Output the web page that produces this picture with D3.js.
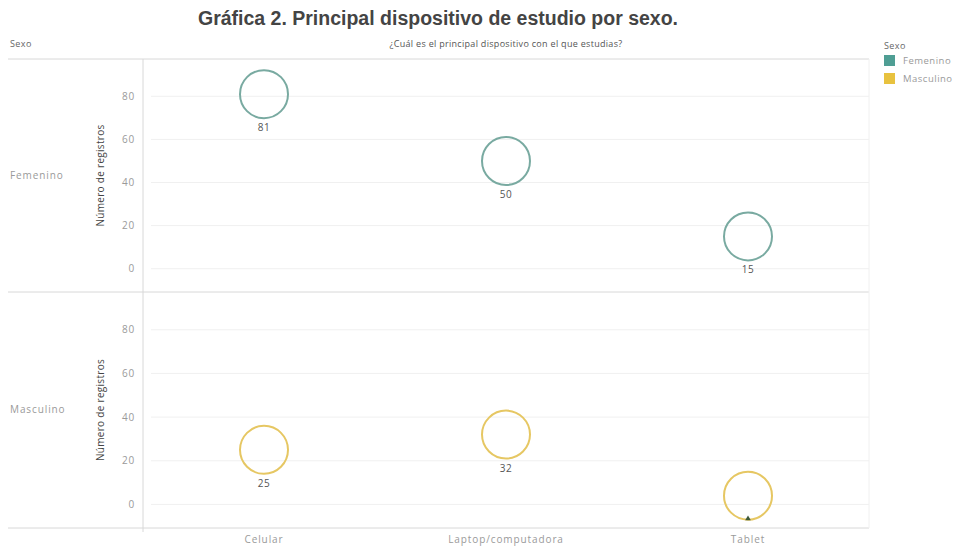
<!DOCTYPE html>
<html>
  <head>
    <title>Gráfica 2</title>
    <script src="https://cdn.jsdelivr.net/npm/d3@7"></script>
    <style>
      body {
        margin: 0;
        background: #fff;
      }
      svg text {
        font-family: "Open Sans", Lato, sans-serif;
      }
    </style>
  </head>
  <body>
    <script>
    // data
    var devices = ["Celular", "Laptop/computadora", "Tablet"];
    var sexes = ["Femenino", "Masculino"];
    var femenino = [81, 50, 15];
    var masculino = [25, 32, 4];
    var yTicks = [0, 20, 40, 60, 80];
    var colors = ["#4f9e94", "#e8c23f"];
    var strokes = ["#79aaa1", "#e6c763"];

    var values = [femenino, masculino];

    var W = 962, H = 546;
    var plotLeft = 143, plotRight = 869, plotTop = 59;
    var panelH = [233, 236];

    var svg = d3.select("body").append("svg")
      .attr("width", W)
      .attr("height", H);

    svg.append("text")
      .attr("x", 438).attr("y", 25)
      .attr("text-anchor", "middle")
      .style("font-family", "Liberation Sans, Arial, sans-serif")
      .style("font-weight", "bold")
      .style("font-size", "19.5px")
      .style("fill", "#444")
      .text("Gráfica 2. Principal dispositivo de estudio por sexo.");

    svg.append("text")
      .attr("x", 10).attr("y", 47)
      .style("font-size", "9px").style("fill", "#666")
      .style("letter-spacing", "0.4px")
      .text("Sexo");

    svg.append("text")
      .attr("x", (plotLeft + plotRight) / 2).attr("y", 47)
      .attr("text-anchor", "middle")
      .style("font-size", "9px").style("fill", "#555")
      .style("letter-spacing", "0.3px")
      .text("¿Cuál es el principal dispositivo con el que estudias?");

    var x = d3.scalePoint()
      .domain(devices)
      .range([plotLeft, plotRight])
      .padding(0.5);

    var y0 = plotTop;
    sexes.forEach(function (sex, i) {
      var h = panelH[i];
      var y = d3.scaleLinear()
        .domain([-10.8, 97.3])
        .range([y0 + h, y0]);

      var g = svg.append("g");

      // grid
      g.selectAll(".grid")
        .data(yTicks)
        .enter().append("line")
        .attr("x1", plotLeft + 8).attr("x2", plotRight)
        .attr("y1", function (d) { return y(d); })
        .attr("y2", function (d) { return y(d); })
        .style("stroke", "#f0f0f0")
        .style("stroke-width", 1);

      var axis = d3.axisLeft(y).tickValues(yTicks).tickSize(0).tickPadding(8);
      var ag = g.append("g")
        .attr("transform", "translate(" + plotLeft + ",0)")
        .call(axis);
      ag.select(".domain").remove();
      ag.selectAll("text")
        .style("font-size", "10px")
        .style("fill", "#9a9a9a")
        .style("letter-spacing", "0.8px")
        .style("font-family", "'Open Sans', sans-serif");

      g.append("text")
        .attr("transform", "translate(104," + (y0 + h / 2) + ") rotate(-90)")
        .attr("text-anchor", "middle")
        .style("font-size", "10px").style("fill", "#444")
        .style("letter-spacing", "0.3px")
        .text("Número de registros");

      g.append("text")
        .attr("x", 10).attr("y", y0 + h / 2 + 3)
        .style("font-size", "10px").style("fill", "#9a9a9a")
        .style("letter-spacing", "0.9px")
        .text(sex);

      var pts = devices.map(function (d, j) {
        return { dev: d, v: values[i][j] };
      });

      g.selectAll(".mark")
        .data(pts)
        .enter().append("circle")
        .attr("cx", function (d) { return x(d.dev); })
        .attr("cy", function (d) { return y(d.v); })
        .attr("r", 24)
        .style("fill", "none")
        .style("stroke", strokes[i])
        .style("stroke-width", 2);

      g.selectAll(".lbl")
        .data(pts.filter(function (d) { return d.v > 10; }))
        .enter().append("text")
        .attr("x", function (d) { return x(d.dev); })
        .attr("y", function (d) { return y(d.v) + 37; })
        .attr("text-anchor", "middle")
        .style("font-size", "10px").style("fill", "#555")
        .style("letter-spacing", "0.5px")
        .text(function (d) { return d.v; });

      // tiny mark under the small circle
      pts.filter(function (d) { return d.v <= 10; }).forEach(function (d) {
        g.append("path")
          .attr("d", d3.symbol().type(d3.symbolTriangle).size(14))
          .attr("transform", "translate(" + x(d.dev) + "," + (y(d.v) + 23) + ")")
          .style("fill", "#3d5a3a");
      });

      y0 += h;
    });

    // frame lines
    var lines = [
      [8, plotTop, plotRight, plotTop],
      [8, plotTop + panelH[0], plotRight, plotTop + panelH[0]],
      [8, plotTop + panelH[0] + panelH[1], plotRight, plotTop + panelH[0] + panelH[1]],
      [plotLeft, plotTop, plotLeft, plotTop + panelH[0] + panelH[1] + 4],
      [plotRight, plotTop, plotRight, plotTop + panelH[0] + panelH[1]]
    ];
    svg.selectAll(".frame")
      .data(lines)
      .enter().append("line")
      .attr("x1", function (d) { return d[0]; })
      .attr("y1", function (d) { return d[1]; })
      .attr("x2", function (d) { return d[2]; })
      .attr("y2", function (d) { return d[3]; })
      .style("stroke", function (d, i) { return i == 4 ? "#f0f0f0" : "#d8d8d8"; })
      .style("stroke-width", 1);

    // x labels
    svg.selectAll(".xl")
      .data(devices)
      .enter().append("text")
      .attr("x", function (d) { return x(d); })
      .attr("y", 543)
      .attr("text-anchor", "middle")
      .style("font-size", "10px").style("fill", "#9a9a9a")
      .style("letter-spacing", "0.9px")
      .text(function (d) { return d; });

    // legend
    svg.append("text")
      .attr("x", 884).attr("y", 49)
      .style("font-size", "9px").style("fill", "#666")
      .style("letter-spacing", "0.4px")
      .text("Sexo");
    var lg = svg.selectAll(".lg")
      .data(sexes)
      .enter().append("g")
      .attr("transform", function (d, i) { return "translate(884," + (55 + i * 18) + ")"; });
    lg.append("rect")
      .attr("width", 11).attr("height", 11)
      .style("fill", function (d, i) { return colors[i]; });
    lg.append("text")
      .attr("x", 19).attr("y", 9)
      .style("font-size", "9.5px").style("fill", "#9a9a9a")
      .style("letter-spacing", "0.5px")
      .text(function (d) { return d; });
    </script>
  </body>
</html>
